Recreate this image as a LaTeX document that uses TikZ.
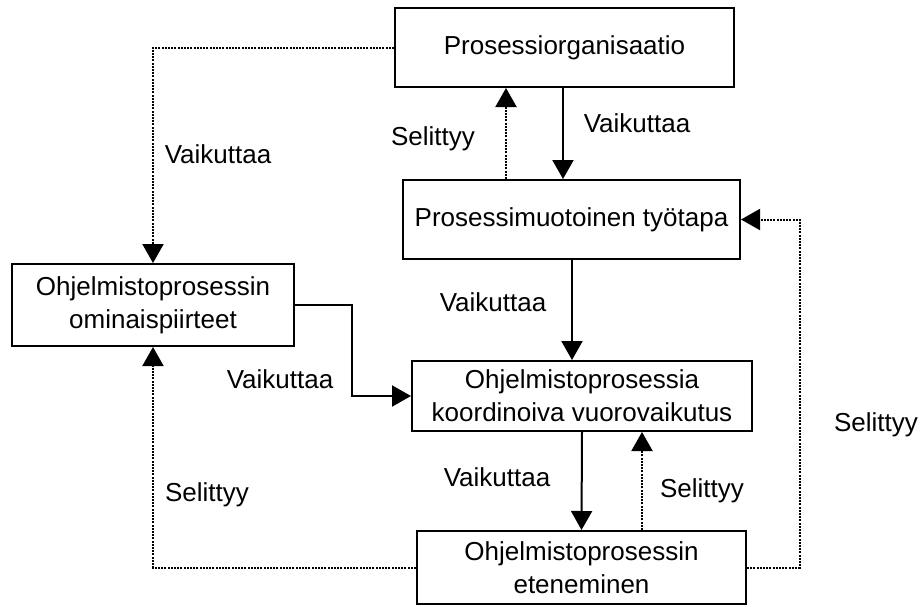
\documentclass[tikz,border=0pt]{standalone}
\usepackage{fontspec}
\setmainfont{Liberation Sans}
\usetikzlibrary{arrows.meta}
\begin{document}
\begin{tikzpicture}[x=0.5pt,y=-0.5pt,
  font=\fontsize{13pt}{16.5pt}\selectfont,
  box/.style={draw,line width=1pt,inner sep=0pt,align=center},
  lbl/.style={inner sep=0pt,anchor=base},
  solidarrow/.style={line width=1pt,-{Triangle[width=10.5pt,length=9.5pt]}},
  dotarrow/.style={line width=1pt,dash pattern=on 1pt off 0.6pt,-{Triangle[width=10.5pt,length=9.5pt]}},
]
\useasboundingbox (0,0) rectangle (922,606);

% boxes
\node[box,minimum width=169.5pt,minimum height=39.5pt] (b1) at (564.5,47.5) {Prosessiorganisaatio};
\node[box,minimum width=168.5pt,minimum height=39.5pt] (b2) at (571.5,219.5) {Prosessimuotoinen työtapa};
\node[box,minimum width=141pt,minimum height=41pt] (b3) at (153,305) {\raisebox{-2pt}{\parbox{140pt}{\centering Ohjelmistoprosessin\\ominaispiirteet}}};
\node[box,minimum width=170pt,minimum height=35pt] (b4) at (582,396) {\raisebox{-3pt}{\parbox{168pt}{\centering Ohjelmistoprosessia\\koordinoiva vuorovaikutus}}};
\node[box,minimum width=164.5pt,minimum height=36.5pt] (b5) at (581.5,567.5) {\raisebox{-2pt}{\parbox{163pt}{\centering Ohjelmistoprosessin\\eteneminen}}};

% helper columns for the vertical connectors
\coordinate (k1) at (563,0);
\coordinate (k2) at (506,0);
\coordinate (k3) at (572,0);
\coordinate (k4) at (642,0);
\coordinate (k5) at (352,0);
\coordinate (k6) at (800,0);
\coordinate (k7) at (153,0);

% connectors
\draw[dotarrow] (b1.west) -| (b3.north);
\draw[solidarrow] (b1.south -| k1) -- (b2.north -| k1);
\draw[dotarrow] (b2.north -| k2) -- (b1.south -| k2);
\draw[solidarrow] (b2.south -| k3) -- (b4.north -| k3);
\draw[solidarrow] (b3.east) -- (b3.east -| k5) |- (b4.west);
\draw[solidarrow] (b4.south) -- (b5.north);
\draw[dotarrow] (b5.north -| k4) -- (b4.south -| k4);
\draw[dotarrow] (b5.east) -- (b5.east -| k6) |- (b2.east);
\draw[dotarrow] (b5.west) -- (b5.west -| k7) -- (b3.south);

% connector labels
\node[lbl] (l1) at (218,163) {Vaikuttaa};
\node[lbl] (l2) at (433,145) {Selittyy};
\node[lbl] (l3) at (637,132) {Vaikuttaa};
\node[lbl] (l4) at (493,311) {Vaikuttaa};
\node[lbl] (l5) at (280,388) {Vaikuttaa};
\node[lbl] (l6) at (497,486) {Vaikuttaa};
\node[lbl] (l7) at (702,497) {Selittyy};
\node[lbl] (l8) at (207,501) {Selittyy};
\node[lbl] (l9) at (876,431) {Selittyy};
\end{tikzpicture}
\end{document}
